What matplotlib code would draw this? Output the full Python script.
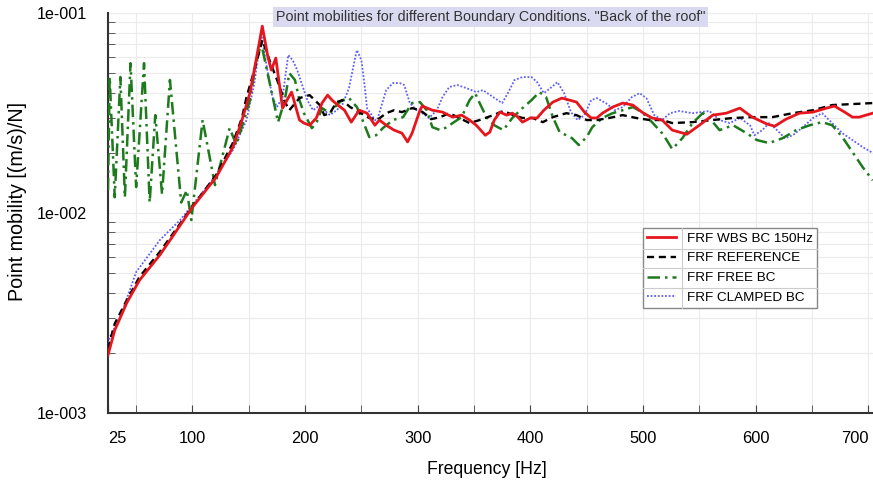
import numpy as np
import matplotlib
matplotlib.use('Agg')
import matplotlib.pyplot as plt
from matplotlib.ticker import FixedLocator, MultipleLocator, FuncFormatter, NullFormatter
from matplotlib.lines import Line2D

plt.rcParams['font.family'] = ['Liberation Sans', 'DejaVu Sans']

# FRF WBS BC 150Hz
f_wbs = [25, 31, 42, 53, 71, 82, 100, 121, 136, 144, 151, 157, 162, 167, 170, 174, 180, 188, 195,
         199, 204, 210, 215, 220, 224, 229, 235, 241, 248, 255, 262, 266, 272, 279, 286, 291, 295,
         302, 304, 313, 322, 331, 339, 346, 352, 360, 364, 368, 373, 379, 384, 389, 393, 400, 406,
         412, 420, 428, 435, 441, 448, 454, 459, 464, 473, 482, 491, 499, 508, 517, 526, 539, 550,
         562, 574, 586, 597, 610, 617, 627, 639, 651, 663, 670, 679, 686, 692, 704]
m_wbs = [0.00195, 0.0026, 0.00359, 0.00462, 0.00617, 0.00759, 0.0107, 0.0151, 0.0214, 0.0292,
         0.0398, 0.0603, 0.0861, 0.0603, 0.0519, 0.0596, 0.0335, 0.0403, 0.0292,
         0.0282, 0.0275, 0.0299, 0.0355, 0.0389, 0.0367, 0.0347, 0.0327, 0.0285, 0.0327, 0.0316,
         0.0275, 0.0292, 0.0275, 0.0260, 0.0251, 0.0227, 0.0251,
         0.0327, 0.0343, 0.0327, 0.0320, 0.0302, 0.0309, 0.0292, 0.0275, 0.0245, 0.0254, 0.0292,
         0.0320, 0.0309, 0.0316, 0.0302, 0.0285, 0.0299, 0.0299,
         0.0327, 0.0359, 0.0376, 0.0367, 0.0359, 0.0320, 0.0299, 0.0299, 0.0316, 0.0339, 0.0355,
         0.0347, 0.0320, 0.0299, 0.0292, 0.0260, 0.0248, 0.0275,
         0.0309, 0.0316, 0.0335, 0.0302, 0.0279, 0.0272, 0.0295, 0.0316, 0.0320, 0.0335, 0.0343,
         0.0320, 0.0302, 0.0302, 0.0316]

# FRF REFERENCE
f_ref = [25, 31, 42, 53, 71, 82, 100, 121, 136, 144, 148, 155, 162, 170, 176, 182, 186, 195, 204,
         213, 217, 222, 228, 233, 240, 248, 257, 264, 272, 279, 286, 295, 302, 308, 312, 320, 328,
         337, 346, 355, 367, 376, 385, 393, 402, 411, 420, 432, 441, 450, 459, 470, 482, 494, 506,
         517, 526, 544, 562, 580, 597, 615, 633, 651, 668, 686, 704]
m_ref = [0.0021, 0.0028, 0.0037, 0.0048, 0.0064, 0.0078, 0.0108, 0.0155, 0.0225, 0.030, 0.038,
         0.052, 0.0733, 0.055, 0.045, 0.036, 0.0327, 0.0376, 0.0389,
         0.0347, 0.0309, 0.0316, 0.0359, 0.0367, 0.0339, 0.0320, 0.0299, 0.0292, 0.0316, 0.0327,
         0.0320, 0.0335, 0.0327, 0.0309, 0.0295, 0.0302, 0.0316,
         0.0299, 0.0282, 0.0292, 0.0309, 0.0324, 0.0309, 0.0299, 0.0299, 0.0285, 0.0302, 0.0316,
         0.0309, 0.0292, 0.0292, 0.0299, 0.0309, 0.0299, 0.0292,
         0.0292, 0.0282, 0.0285, 0.0292, 0.0299, 0.0302, 0.0302, 0.0316, 0.0327, 0.0347, 0.0351,
         0.0355]

# FRF FREE BC
f_free = [25, 26.5, 31, 36, 40, 45, 50, 57, 62, 67, 73, 80, 90, 95, 99, 109, 120, 133, 139, 151,
          156, 161, 176, 182, 186, 191, 195, 199, 206, 210, 215, 222, 228, 233, 239, 246, 251, 257,
          263, 269, 278, 287, 295, 302, 308, 313, 320, 326, 331, 339, 346, 351, 355, 361, 368, 376,
          384, 393, 401, 408, 414, 420, 426, 432, 437, 443, 450, 455, 464, 473, 482, 491, 499, 508,
          517, 521, 526, 535, 544, 553, 559, 568, 580, 592, 601, 612, 624, 636, 648, 659, 668, 677,
          686, 695, 704]
m_free = [0.0130, 0.0479, 0.0120, 0.0479, 0.0120, 0.0562, 0.0135, 0.0562, 0.0113, 0.0309, 0.0124,
          0.0463, 0.0113, 0.0130, 0.00923, 0.0292, 0.0138, 0.0266, 0.0219, 0.0367,
          0.0550, 0.0708, 0.0285, 0.0367, 0.0501, 0.0463, 0.0367, 0.0316, 0.0266, 0.0282, 0.0335,
          0.0316, 0.0347, 0.0367, 0.0376, 0.0339, 0.0292, 0.0240,
          0.0245, 0.0266, 0.0292, 0.0302, 0.0355, 0.0359, 0.0327, 0.0269, 0.0260, 0.0269, 0.0282,
          0.0302, 0.0367, 0.0398, 0.0355, 0.0302, 0.0275, 0.0260,
          0.0299, 0.0335, 0.0367, 0.0403, 0.0380, 0.0302, 0.0254, 0.0245, 0.0237, 0.0219, 0.0240,
          0.0269, 0.0299, 0.0316, 0.0327, 0.0339, 0.0320, 0.0285,
          0.0251, 0.0232, 0.0209, 0.0237, 0.0282, 0.0316, 0.0299, 0.0260, 0.0275, 0.0251, 0.0232,
          0.0224, 0.0237, 0.0260, 0.0275, 0.0285, 0.0275, 0.0240,
          0.0202, 0.0170, 0.0146]

# FRF CLAMPED BC
f_clamp = [25, 28, 35, 50, 71, 89, 100, 121, 136, 148, 155, 161, 166, 171, 175, 180, 185, 189, 193,
           198, 202, 207, 211, 215, 222, 228, 233, 239, 244, 246, 250, 253, 255, 262, 264, 268, 272,
           278, 284, 288, 293, 299, 304, 310, 317, 322, 328, 335, 343, 352, 358, 367, 375, 380, 386,
           393, 401, 406, 412, 419, 424, 430, 436, 442, 448, 454, 459, 467, 475, 482, 490, 497, 503,
           510, 517, 524, 532, 544, 559, 568, 577, 586, 595, 599, 606, 612, 619, 626, 633, 642, 651,
           659, 668, 677, 686, 695, 704]
m_clamp = [0.00224, 0.0025, 0.00292, 0.00507, 0.00733, 0.00923, 0.0110, 0.0155, 0.0207, 0.0292,
           0.0447, 0.0794, 0.0537, 0.0380, 0.0339, 0.0380, 0.0617, 0.0582, 0.0519,
           0.0427, 0.0367, 0.0327, 0.0339, 0.0335, 0.0309, 0.0327, 0.0347, 0.0422, 0.0582, 0.0654,
           0.0582, 0.0427, 0.0335, 0.0292, 0.0292, 0.0347, 0.0412,
           0.0447, 0.0447, 0.0437, 0.0355, 0.0327, 0.0316, 0.0299, 0.0327, 0.0380, 0.0427, 0.0437,
           0.0422, 0.0403, 0.0412, 0.0380, 0.0355, 0.0398, 0.0463,
           0.0479, 0.0479, 0.0452, 0.0398, 0.0427, 0.0452, 0.0398, 0.0320, 0.0292, 0.0309, 0.0367,
           0.0376, 0.0355, 0.0327, 0.0339, 0.0380, 0.0398, 0.0376,
           0.0309, 0.0292, 0.0316, 0.0324, 0.0316, 0.0324, 0.0292, 0.0282, 0.0299, 0.0275, 0.0245,
           0.0260, 0.0282, 0.0260, 0.0237, 0.0245, 0.0269, 0.0299,
           0.0316, 0.0282, 0.0251, 0.0232, 0.0214, 0.0200]

x_ticks = [25, 100, 200, 300, 400, 500, 600, 700]
y_ticks = [1e-3, 1e-2, 1e-1]
y_labels = ['1e-003', '1e-002', '1e-001']

fig = plt.figure(figsize=(8.73, 4.86), dpi=100)
ax = fig.add_axes([0.1237, 0.150, 0.876, 0.823])

ax.plot(f_clamp, m_clamp, color='#5f5ff5', lw=1.3, ls=(0, (1, 1)), zorder=3, label='FRF CLAMPED BC')
ax.plot(f_free, m_free, color='#1d7a1d', lw=1.8, ls=(0, (5, 2, 1, 2)), zorder=4, label='FRF FREE BC')
ax.plot(f_ref, m_ref, color='black', lw=1.7, ls=(0, (3, 2)), zorder=5, label='FRF REFERENCE')
ax.plot(f_wbs, m_wbs, color='#e5161d', lw=2.0, zorder=6, label='FRF WBS BC 150Hz')

ax.set_yscale('log')
ax.set_xlim(25, 704)
ax.set_ylim(1e-3, 1e-1)

ax.xaxis.set_major_locator(FixedLocator(x_ticks))
ax.xaxis.set_minor_locator(MultipleLocator(50))
ax.yaxis.set_major_locator(FixedLocator(y_ticks))
ax.yaxis.set_major_formatter(FuncFormatter(lambda v, p: y_labels[y_ticks.index(v)] if v in y_ticks else ''))
ax.yaxis.set_minor_formatter(NullFormatter())

ax.grid(which='both', color='#ebebeb', lw=0.8, zorder=0)
ax.set_axisbelow(True)
ax.tick_params(axis='x', which='both', direction='in', length=6, color='#444', labelsize=11.8, pad=13)
ax.tick_params(axis='y', which='major', direction='in', length=0, labelsize=11.6, pad=15)
ax.tick_params(axis='y', which='minor', direction='in', length=5, color='#444')
xl = ax.get_xticklabels()
xl[0].set_horizontalalignment('left')
xl[-1].set_horizontalalignment('right')
for s in ['top', 'right']:
    ax.spines[s].set_visible(False)
for s in ['left', 'bottom']:
    ax.spines[s].set_color('#333333')
    ax.spines[s].set_linewidth(1.5)

ax.set_xlabel('Frequency [Hz]', fontsize=12.7)
ax.xaxis.set_label_coords(0.495, -0.12)
ax.set_ylabel('Point mobility [(m/s)/N]', fontsize=14.2)
ax.yaxis.set_label_coords(-0.106, 0.53)

ax.text(0.5, 0.99, 'Point mobilities for different Boundary Conditions. "Back of the roof"',
        transform=ax.transAxes, ha='center', va='center', fontsize=10.3, color='#333333',
        bbox=dict(facecolor='#d9d9f0', edgecolor='none', pad=2), zorder=10)

handles, labels = ax.get_legend_handles_labels()
leg = ax.legend(handles[::-1], labels[::-1], loc='upper left', bbox_to_anchor=(0.699, 0.4625),
                frameon=True, fancybox=False, edgecolor='#888888', framealpha=1, fontsize=9.7,
                borderpad=0.3, labelspacing=0.55, handlelength=2.2, handletextpad=0.8, borderaxespad=0)
leg.get_frame().set_linewidth(1.0)

# table-like separators inside the legend
fig.canvas.draw()
r = fig.canvas.get_renderer()
inv = fig.transFigure.inverted()
lb = inv.transform_bbox(leg.get_window_extent(r))
tb = [inv.transform_bbox(t.get_window_extent(r)) for t in leg.get_texts()]
for a, b in zip(tb[:-1], tb[1:]):
    yy = (a.y0 + b.y1) / 2
    fig.add_artist(Line2D([lb.x0, lb.x1], [yy, yy], transform=fig.transFigure, color='#cccccc', lw=0.8, zorder=20))
xs = tb[0].x0 - 0.006
fig.add_artist(Line2D([xs, xs], [lb.y0, lb.y1], transform=fig.transFigure, color='#cccccc', lw=0.8, zorder=20))

fig.savefig('out.png', dpi=100)
